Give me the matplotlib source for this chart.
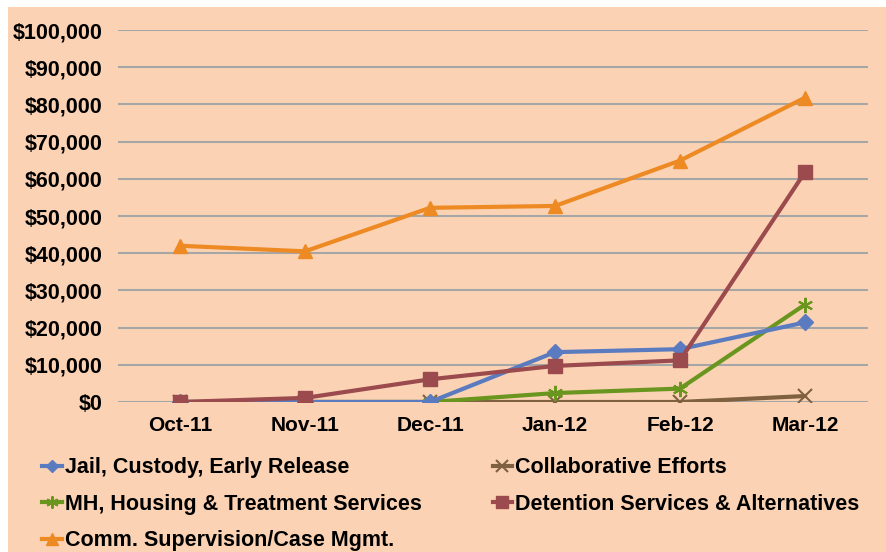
import matplotlib.pyplot as plt
from matplotlib.patches import Rectangle
from matplotlib.ticker import FuncFormatter

months = ["Oct-11", "Nov-11", "Dec-11", "Jan-12", "Feb-12", "Mar-12"]
jail = [0, 0, 0, 13400, 14200, 21400]
collab = [0, 0, 0, 0, 0, 1600]
mh = [0, 0, 0, 2400, 3600, 26200]
detention = [0, 1100, 6100, 9700, 11200, 61800]
comm = [42000, 40500, 52200, 52700, 64900, 81800]

bg = "#FBD3B4"
plt.rcParams["font.family"] = ["Liberation Sans", "DejaVu Sans"]
plt.rcParams["font.weight"] = "bold"

fig = plt.figure(figsize=(8.87, 5.52), dpi=100, facecolor="white")
fig.patches.append(Rectangle((8 / 887, 0), 1, 1 - 7 / 552, transform=fig.transFigure,
                             facecolor=bg, edgecolor="none", zorder=-10))
ax = fig.add_axes([117.5 / 887, 1 - 402 / 552, 750 / 887, 372 / 552])
ax.set_facecolor("none")

x = range(len(months))
lw = 3
l_jail, = ax.plot(x, jail, color="#5B7BC0", lw=lw, marker="D", ms=8, label="Jail, Custody, Early Release", zorder=4)
l_collab, = ax.plot(x, collab, color="#7F6040", lw=lw, marker="x", ms=10, mew=1.5, label="Collaborative Efforts", zorder=3)
l_mh, = ax.plot(x, mh, color="#6A961F", lw=lw, marker=(6, 2, 0), ms=11, mew=1.5, label="MH, Housing & Treatment Services", zorder=3)
l_det, = ax.plot(x, detention, color="#9B4A4E", lw=lw, marker="s", ms=10, label="Detention Services & Alternatives", zorder=5)
l_comm, = ax.plot(x, comm, color="#EE8A24", lw=lw, marker="^", ms=10, label="Comm. Supervision/Case Mgmt.", zorder=5)

ax.set_xlim(-0.5, len(months) - 0.5)
ax.set_ylim(0, 100000)
ax.set_yticks(range(0, 100001, 10000))
ax.yaxis.set_major_formatter(FuncFormatter(lambda v, p: "${:,.0f}".format(v)))
ax.set_xticks(list(x))
ax.set_xticklabels(months)
ax.tick_params(axis="x", length=0, labelsize=15, pad=10)
ax.tick_params(axis="y", length=0, labelsize=15.5, pad=11)
ax.grid(axis="y", color="#A6A6A6", lw=1.5)
ax.set_axisbelow(True)
for s in ax.spines.values():
    s.set_visible(False)

handles = [l_jail, l_mh, l_comm, l_collab, l_det]
fig.legend(handles, [h.get_label() for h in handles], ncol=2, loc="upper left",
           bbox_to_anchor=(25 / 887, 1 - 440 / 552), frameon=False, fontsize=15.5,
           handlelength=0.9, handletextpad=0.15, columnspacing=3.3, labelspacing=0.72,
           markerscale=0.8, borderpad=0.3)

fig.savefig("out.png", dpi=100, facecolor="white")
